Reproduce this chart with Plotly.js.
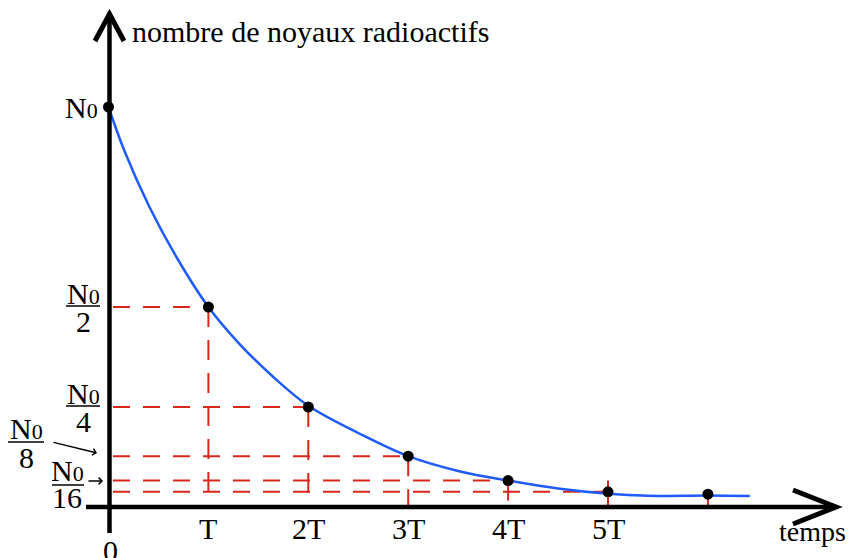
<!DOCTYPE html>
<html>
<head>
<meta charset="utf-8">
<script src="https://cdn.plot.ly/plotly-3.0.1.min.js"></script>
<style>html,body{margin:0;padding:0;background:#fff;}#chart{width:850px;height:558px;}</style>
</head>
<body>
<div id="chart"></div>
<script>
// ---- data ----
const periods = [0, 1, 2, 3, 4, 5, 6];                 // time in half-lives T
const nuclei = [1, 0.5, 0.25, 0.127, 0.066, 0.038, 0.032]; // fraction of N0 (dots)
const curveT = [0, 0.16, 0.41, 0.68, 1, 1.31, 1.65, 2, 2.5, 3, 3.5, 4, 4.5, 5, 5.4, 6, 6.42];
const curveN = [1, 0.89, 0.75, 0.625, 0.5, 0.408, 0.325, 0.253, 0.185, 0.127, 0.09, 0.066, 0.046, 0.033, 0.028, 0.029, 0.0275];
const xTickVals = [1, 2, 3, 4, 5];
const xTickText = ['T', '2T', '3T', '4T', '5T'];
const yLevelLabels = ['2', '4'];   // denominators drawn beside N0/2 and N0/4
const yLabelSmall = ['8', '16'];   // denominators of the arrow-pointed labels

// ---- geometry (pixel frame) ----
const W = 850, H = 558;
const X0 = 108.5, PXT = 99.9;   // x pixel of t=0, pixels per T
const Y0 = 507, PXN = 400;      // y pixel of N=0, pixels per N0
const xr = [-X0 / PXT, (W - X0) / PXT];
const yr = [-(H - Y0) / PXN, Y0 / PXN];
const py = v => Y0 - v * PXN;
const PX = p => p / W;          // pixel -> paper
const PY = p => 1 - p / H;

const FONT = 'Liberation Serif, Times New Roman, serif';
const RED = '#d8271c';
const BLUE = '#1f5bff';
const N0 = 'N<span style="font-size:22px">0</span>';

const traces = [];
// horizontal dashed guides
for (let i = 1; i <= 5; i++) {
  traces.push({x: [0.045, periods[i]], y: [nuclei[i], nuclei[i]], mode: 'lines',
    line: {color: RED, width: 2, dash: '17px,13px'}, hoverinfo: 'skip', showlegend: false});
}
// vertical dashed guides
for (let i = 1; i <= 4; i++) {
  traces.push({x: [periods[i], periods[i]], y: [nuclei[i], 0], mode: 'lines',
    line: {color: RED, width: 2, dash: '20px,13px'}, hoverinfo: 'skip', showlegend: false});
}
// short solid markers at 5T and 6T
traces.push({x: [periods[5], periods[5]], y: [nuclei[4], 0], mode: 'lines',
  line: {color: RED, width: 2}, hoverinfo: 'skip', showlegend: false});
traces.push({x: [periods[6], periods[6]], y: [nuclei[6], 0], mode: 'lines',
  line: {color: RED, width: 2}, hoverinfo: 'skip', showlegend: false});
// decay curve
traces.push({x: curveT, y: curveN, mode: 'lines',
  line: {color: BLUE, width: 2.5, shape: 'spline', smoothing: 1}, hoverinfo: 'skip', showlegend: false});
// dots
traces.push({x: periods, y: nuclei, mode: 'markers',
  marker: {color: '#000', size: 11}, hoverinfo: 'skip', showlegend: false});

const ann = [];
const txt = (text, x, y, xa, ya, size, xref, yref) => ann.push({
  text, x, y, xref: xref || 'paper', yref: yref || 'paper', xanchor: xa, yanchor: ya,
  showarrow: false, font: {family: FONT, size: size || 30, color: '#000'}});

// axis titles
txt('nombre de noyaux radioactifs', PX(130), PY(32), 'left', 'middle', 30);
txt('temps', PX(777), PY(531), 'left', 'middle', 28);
// x tick labels
xTickVals.forEach((v, i) => txt(xTickText[i], v, PY(528), 'center', 'middle', 30, 'x', 'paper'));
txt('0', PX(110), PY(550), 'center', 'middle', 30);
// N0 at top
txt(N0, PX(100), nuclei[0], 'right', 'middle', 30, 'paper', 'y');

const shapes = [];
// fractions N0/2, N0/4 beside their levels
[nuclei[1], nuclei[2]].forEach((lv, i) => {
  const p = py(lv);
  txt(N0, PX(83), PY(p - 14), 'center', 'middle', 30);
  txt(yLevelLabels[i], PX(83), PY(p + 14), 'center', 'middle', 30);
  shapes.push({type: 'line', xref: 'paper', yref: 'paper', x0: PX(66), x1: PX(100),
    y0: PY(p - 1), y1: PY(p - 1), line: {color: '#000', width: 1.5}});
});
// N0/8 with arrow
txt(N0, PX(26), PY(428), 'center', 'middle', 30);
txt(yLabelSmall[0], PX(26), PY(457), 'center', 'middle', 30);
shapes.push({type: 'line', xref: 'paper', yref: 'paper', x0: PX(8), x1: PX(44),
  y0: PY(442), y1: PY(442), line: {color: '#000', width: 1.5}});
ann.push({x: PX(97), y: PY(453), ax: PX(52), ay: PY(442), xref: 'paper', yref: 'paper',
  axref: 'paper', ayref: 'paper', showarrow: true, arrowhead: 4, arrowsize: 1, arrowwidth: 1.3,
  arrowcolor: '#000', text: ''});
// N0/16 with arrow
txt(N0, PX(67), PY(470), 'center', 'middle', 30);
txt(yLabelSmall[1], PX(67), PY(497), 'center', 'middle', 30);
shapes.push({type: 'line', xref: 'paper', yref: 'paper', x0: PX(52), x1: PX(84),
  y0: PY(485), y1: PY(485), line: {color: '#000', width: 1.5}});
ann.push({x: PX(103), y: PY(481), ax: PX(87), ay: PY(481), xref: 'paper', yref: 'paper',
  axref: 'paper', ayref: 'paper', showarrow: true, arrowhead: 4, arrowsize: 1, arrowwidth: 1.3,
  arrowcolor: '#000', text: ''});

// axes with open arrowheads
shapes.push({type: 'line', xref: 'paper', yref: 'paper', x0: PX(86), x1: PX(836),
  y0: PY(Y0), y1: PY(Y0), line: {color: '#000', width: 4.5}});
shapes.push({type: 'line', xref: 'paper', yref: 'paper', x0: PX(109.5), x1: PX(109.5),
  y0: PY(533), y1: PY(14), line: {color: '#000', width: 4.5}});
shapes.push({type: 'path', xref: 'paper', yref: 'paper',
  path: `M ${PX(95)} ${PY(41)} L ${PX(109.5)} ${PY(14)} L ${PX(124)} ${PY(41)}`,
  line: {color: '#000', width: 5}});
shapes.push({type: 'path', xref: 'paper', yref: 'paper',
  path: `M ${PX(793)} ${PY(490)} L ${PX(836)} ${PY(Y0)} L ${PX(793)} ${PY(524)}`,
  line: {color: '#000', width: 5}});

const layout = {
  width: W, height: H, margin: {l: 0, r: 0, t: 0, b: 0},
  paper_bgcolor: '#fff', plot_bgcolor: '#fff', showlegend: false,
  xaxis: {range: xr, showgrid: false, zeroline: false, showticklabels: false, showline: false, ticks: '', fixedrange: true},
  yaxis: {range: yr, showgrid: false, zeroline: false, showticklabels: false, showline: false, ticks: '', fixedrange: true},
  shapes, annotations: ann
};
Plotly.newPlot('chart', traces, layout, {staticPlot: true, displayModeBar: false});
</script>
</body>
</html>
